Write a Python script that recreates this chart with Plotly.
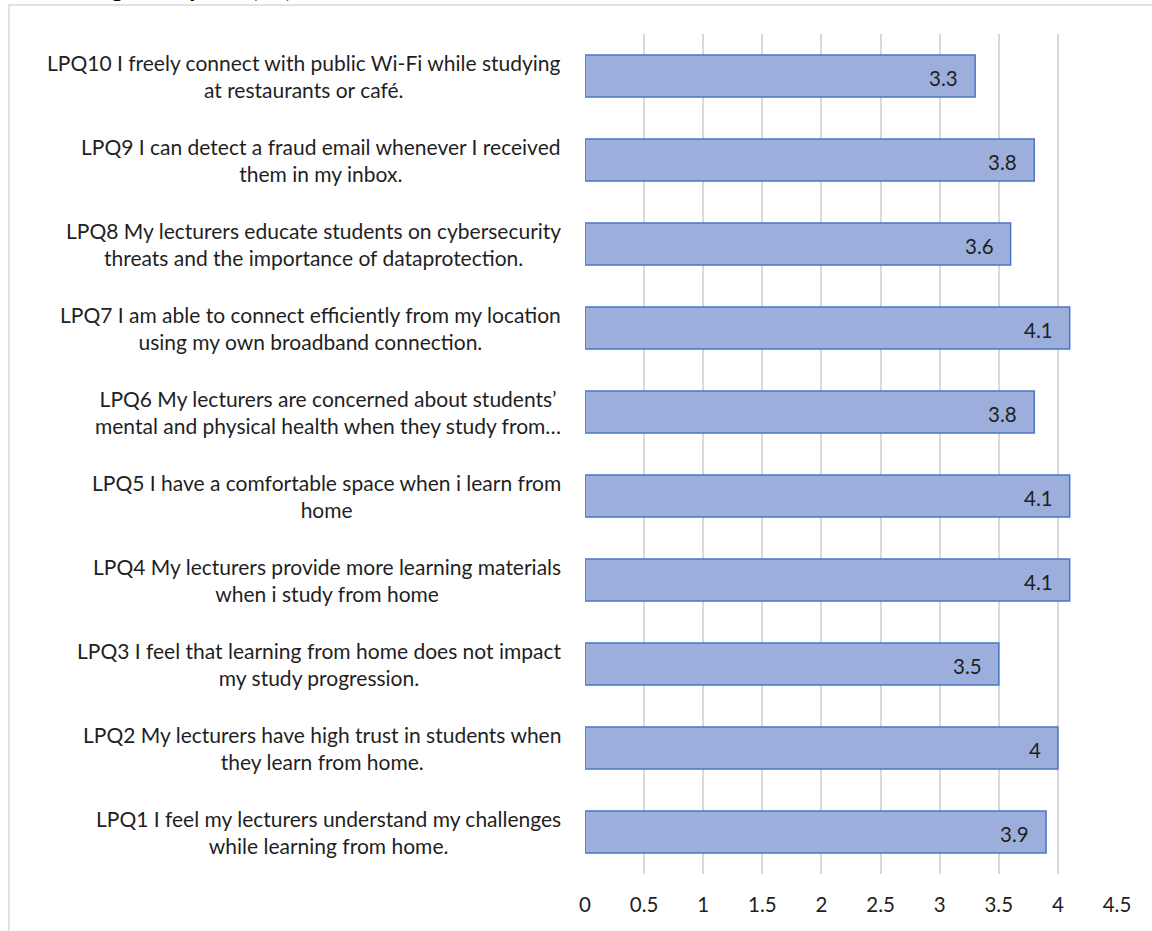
import plotly.graph_objects as go

categories = ["LPQ1", "LPQ2", "LPQ3", "LPQ4", "LPQ5", "LPQ6", "LPQ7", "LPQ8", "LPQ9", "LPQ10"]
labels = [
    "LPQ1 I feel my lecturers understand my challenges<br>while learning from home.",
    "LPQ2 My lecturers have high trust in students when<br>they learn from home.",
    "LPQ3 I feel that learning from home does not impact<br>my study progression.",
    "LPQ4 My lecturers provide more learning materials<br>when i study from home",
    "LPQ5 I have a comfortable space when i learn from<br>home",
    "LPQ6 My lecturers are concerned about students’<br>mental and physical health when they study from…",
    "LPQ7 I am able to connect efficiently from my location<br>using my own broadband connection.",
    "LPQ8 My lecturers educate students on cybersecurity<br>threats and the importance of dataprotection.",
    "LPQ9 I can detect a fraud email whenever I received<br>them in my inbox.",
    "LPQ10 I freely connect with public Wi-Fi while studying<br>at restaurants or café.",
]
values = [3.9, 4, 3.5, 4.1, 4.1, 3.8, 4.1, 3.6, 3.8, 3.3]
value_text = ["3.9", "4", "3.5", "4.1", "4.1", "3.8", "4.1", "3.6", "3.8", "3.3"]
x_ticks = [0, 0.5, 1, 1.5, 2, 2.5, 3, 3.5, 4, 4.5]
title_text = "Learning Perception (LP)"

W, H = 1152, 931
L, R, T, B = 585, 1117, 34, 874
FONT = "Lato"

def px_x(p):
    return (p - L) / (R - L)

def px_y(p):
    return (B - p) / (B - T)

fig = go.Figure()
fig.add_trace(go.Bar(
    y=categories, x=values, orientation="h",
    marker=dict(color="#9cafdc", line=dict(color="#4a76c6", width=1.5)),
    hoverinfo="skip",
))

annotations = []
for c, lab in zip(categories, labels):
    annotations.append(dict(
        x=px_x(563), xref="paper", y=c, yref="y", text=lab, showarrow=False,
        xanchor="right", yanchor="middle", align="center",
        font=dict(family=FONT, size=21, color="#1f1f1f"),
    ))
for c, v, t in zip(categories, values, value_text):
    annotations.append(dict(
        x=v, xref="x", y=c, yref="y", text=t, showarrow=False,
        xanchor="right", yanchor="middle", xshift=-15, yshift=-2,
        font=dict(family=FONT, size=20.5, color="#1f1f1f"),
    ))
annotations.append(dict(
    x=px_x(30), xref="paper", y=px_y(4), yref="paper", text="<b>" + title_text + "</b>",
    showarrow=False, xanchor="left", yanchor="bottom",
    font=dict(family=FONT, size=24, color="#000000"),
))

fig.update_layout(
    width=W, height=H,
    margin=dict(l=L, r=W - R, t=T, b=H - B, pad=0),
    paper_bgcolor="white", plot_bgcolor="white",
    showlegend=False, bargap=0.5,
    annotations=annotations,
    shapes=[dict(type="rect", xref="paper", yref="paper",
                 x0=px_x(9), x1=px_x(1170), y0=px_y(960), y1=px_y(5),
                 line=dict(color="#d9d9d9", width=1.5), layer="below")],
    xaxis=dict(range=[0, 4.5], tickvals=x_ticks, ticktext=[str(t) for t in x_ticks],
               showgrid=True, gridcolor="#d9d9d9", gridwidth=1.5, zeroline=False,
               showline=False, ticks="", ticklabelstandoff=16,
               tickfont=dict(family=FONT, size=20.5, color="#1f1f1f")),
    yaxis=dict(categoryorder="array", categoryarray=categories, showticklabels=False,
               showgrid=False, zeroline=False, showline=False, ticks=""),
)
fig.write_html("out.html")
